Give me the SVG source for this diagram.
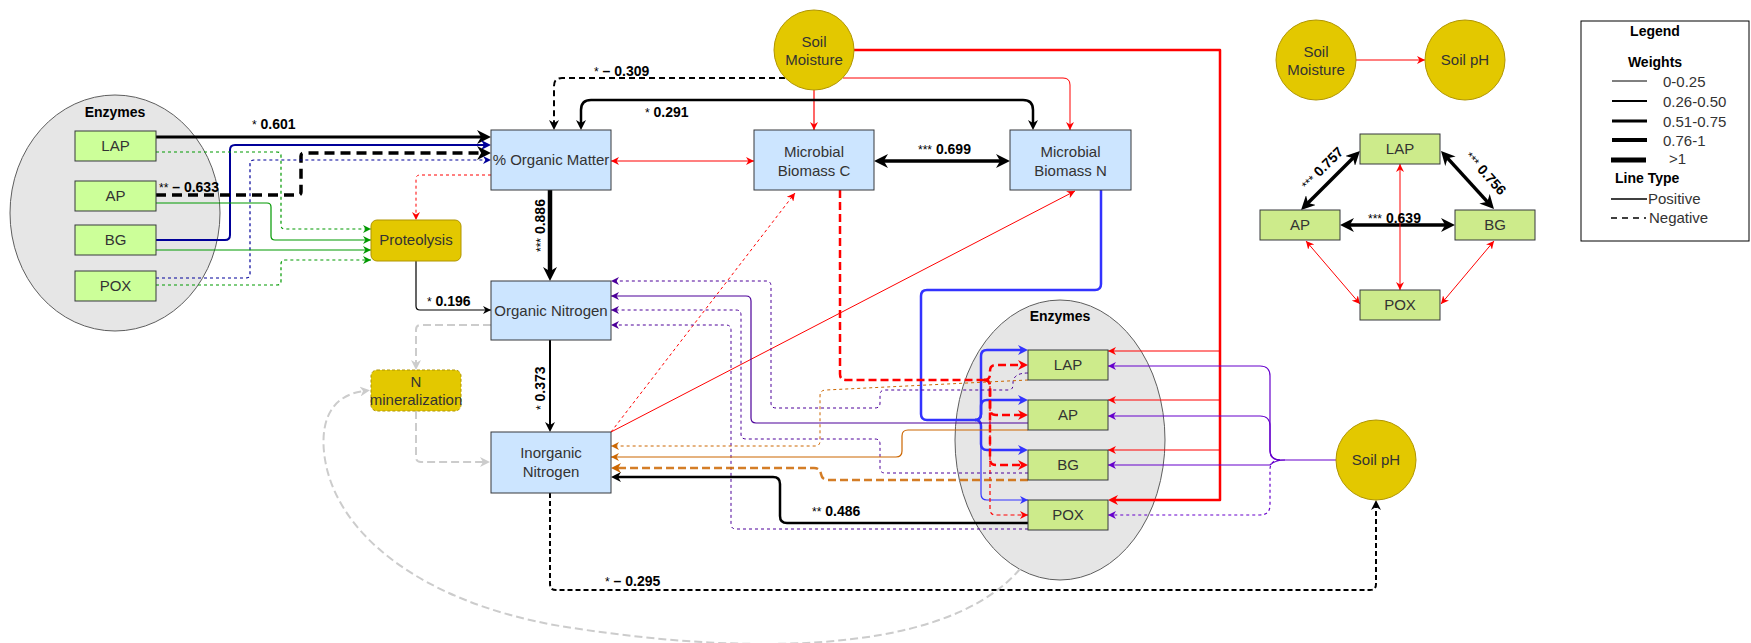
<svg xmlns="http://www.w3.org/2000/svg" width="1751" height="643" viewBox="0 0 1751 643">
  <style>
    .box { fill: #cce5ff; stroke: #36393d; stroke-width: 1; }
    .enz { fill: #cdeb8b; stroke: #36393d; stroke-width: 1; }
    .enzL { fill: #ccff99; stroke: #36393d; stroke-width: 1; }
    .gold { fill: #e3c800; stroke: #b09500; stroke-width: 1; }
    .cluster { fill: #e6e6e6; stroke: #5e5e5e; stroke-width: 1; }
    text { font-family: "Liberation Sans", Arial, Helvetica, sans-serif; }
    .t { font-size: 15px; fill: #333333; text-anchor: middle; }
    .h { font-size: 14px; font-weight: bold; fill: #000; text-anchor: middle; }
    .lbl { font-size: 14px; fill: #000; }
    .lbl .a { font-size: 12px; font-weight: normal; }
    .lbl .n { font-weight: bold; }
    .lg { font-size: 15px; fill: #333333; }
    .e { fill: none; stroke-linejoin: round; }
    .k { stroke: #000000; }
    .r { stroke: #ff0000; }
    .nv { stroke: #000099; }
    .g { stroke: #009900; }
    .pd { stroke: #4c0099; }
    .pu { stroke: #6600cc; }
    .o { stroke: #cc6600; }
    .bl { stroke: #3333ff; }
    .gr { stroke: #cccccc; }
    .d { stroke-dasharray: 3 3; }
  </style>
  <defs>
    <!-- small arrowheads: tip sits on the path end -->
    <marker id="s-k" viewBox="0 0 10 10" markerWidth="8" markerHeight="8" refX="10" refY="5" orient="auto-start-reverse" markerUnits="userSpaceOnUse"><path d="M0,0 L10,5 L0,10 L3,5 z" fill="#000000"/></marker>
    <marker id="s-r" viewBox="0 0 10 10" markerWidth="8" markerHeight="8" refX="10" refY="5" orient="auto-start-reverse" markerUnits="userSpaceOnUse"><path d="M0,0 L10,5 L0,10 L3,5 z" fill="#ff0000"/></marker>
    <marker id="s-nv" viewBox="0 0 10 10" markerWidth="8" markerHeight="8" refX="10" refY="5" orient="auto-start-reverse" markerUnits="userSpaceOnUse"><path d="M0,0 L10,5 L0,10 L3,5 z" fill="#000099"/></marker>
    <marker id="s-g" viewBox="0 0 10 10" markerWidth="8" markerHeight="8" refX="10" refY="5" orient="auto-start-reverse" markerUnits="userSpaceOnUse"><path d="M0,0 L10,5 L0,10 L3,5 z" fill="#009900"/></marker>
    <marker id="s-pd" viewBox="0 0 10 10" markerWidth="8" markerHeight="8" refX="10" refY="5" orient="auto-start-reverse" markerUnits="userSpaceOnUse"><path d="M0,0 L10,5 L0,10 L3,5 z" fill="#4c0099"/></marker>
    <marker id="s-pu" viewBox="0 0 10 10" markerWidth="8" markerHeight="8" refX="10" refY="5" orient="auto-start-reverse" markerUnits="userSpaceOnUse"><path d="M0,0 L10,5 L0,10 L3,5 z" fill="#6600cc"/></marker>
    <marker id="s-o" viewBox="0 0 10 10" markerWidth="8" markerHeight="8" refX="10" refY="5" orient="auto-start-reverse" markerUnits="userSpaceOnUse"><path d="M0,0 L10,5 L0,10 L3,5 z" fill="#cc6600"/></marker>
    <marker id="s-bl" viewBox="0 0 10 10" markerWidth="8" markerHeight="8" refX="10" refY="5" orient="auto-start-reverse" markerUnits="userSpaceOnUse"><path d="M0,0 L10,5 L0,10 L3,5 z" fill="#3333ff"/></marker>
    <!-- medium arrowheads: tip extends 6px past the path end -->
    <marker id="m-k" viewBox="0 0 10 10" markerWidth="10" markerHeight="10" refX="4" refY="5" orient="auto-start-reverse" markerUnits="userSpaceOnUse"><path d="M0,0 L10,5 L0,10 L3,5 z" fill="#000000"/></marker>
    <marker id="m-r" viewBox="0 0 10 10" markerWidth="10" markerHeight="10" refX="4" refY="5" orient="auto-start-reverse" markerUnits="userSpaceOnUse"><path d="M0,0 L10,5 L0,10 L3,5 z" fill="#ff0000"/></marker>
    <marker id="m-nv" viewBox="0 0 10 10" markerWidth="10" markerHeight="10" refX="4" refY="5" orient="auto-start-reverse" markerUnits="userSpaceOnUse"><path d="M0,0 L10,5 L0,10 L3,5 z" fill="#000099"/></marker>
    <marker id="m-o" viewBox="0 0 10 10" markerWidth="10" markerHeight="10" refX="4" refY="5" orient="auto-start-reverse" markerUnits="userSpaceOnUse"><path d="M0,0 L10,5 L0,10 L3,5 z" fill="#cc6600"/></marker>
    <marker id="m-bl" viewBox="0 0 10 10" markerWidth="10" markerHeight="10" refX="4" refY="5" orient="auto-start-reverse" markerUnits="userSpaceOnUse"><path d="M0,0 L10,5 L0,10 L3,5 z" fill="#3333ff"/></marker>
    <marker id="m-gr" viewBox="0 0 10 10" markerWidth="10" markerHeight="10" refX="4" refY="5" orient="auto-start-reverse" markerUnits="userSpaceOnUse"><path d="M0,0 L10,5 L0,10 L3,5 z" fill="#cccccc"/></marker>
    <!-- large arrowheads: tip extends 8px past the path end -->
    <marker id="l-k" viewBox="0 0 10 10" markerWidth="14" markerHeight="14" refX="4.3" refY="5" orient="auto-start-reverse" markerUnits="userSpaceOnUse"><path d="M0,0 L10,5 L0,10 L3,5 z" fill="#000000"/></marker>
  </defs>

  <!-- enzyme clusters (background ellipses) -->
  <g id="cluster-left">
    <ellipse class="cluster" cx="115" cy="213" rx="105" ry="118"/>
    <text class="h" x="115" y="117">Enzymes</text>
  </g>
  <g id="cluster-right">
    <ellipse class="cluster" cx="1060" cy="440" rx="105" ry="140"/>
    <text class="h" x="1060" y="321">Enzymes</text>
  </g>

  <!-- connectors -->
  <g id="connectors">
    <!-- left enzymes to % organic matter -->
    <path class="e k" stroke-width="3" d="M156,137 H483" marker-end="url(#l-k)"/>
    <path class="e nv" stroke-width="2" d="M156,240 H225 Q230,240 230,235 V150 Q230,145 235,145 H485" marker-end="url(#m-nv)"/>
    <path class="e k" stroke-width="3.5" stroke-dasharray="10 6" d="M156,195 H298 Q301,195 301,192 V156 Q301,153 304,153 H483" marker-end="url(#l-k)"/>
    <path class="e nv d" stroke-width="1.2" d="M156,278 H246 Q250,278 250,274 V164 Q250,160 254,160 H491" marker-end="url(#s-nv)"/>
    <!-- left enzymes to proteolysis -->
    <path class="e g d" stroke-width="1.2" d="M156,152 H277 Q281,152 281,156 V225 Q281,229 285,229 H371" marker-end="url(#s-g)"/>
    <path class="e g" stroke-width="1.2" d="M156,203 H267 Q271,203 271,207 V236 Q271,240 275,240 H371" marker-end="url(#s-g)"/>
    <path class="e g" stroke-width="1.2" d="M156,250 H371" marker-end="url(#s-g)"/>
    <path class="e g d" stroke-width="1.2" d="M156,285 H277 Q281,285 281,281 V264 Q281,260 285,260 H371" marker-end="url(#s-g)"/>
    <!-- % organic matter to proteolysis -->
    <path class="e r d" stroke-width="1" d="M491,175 H420 Q416,175 416,179 V220" marker-end="url(#s-r)"/>
    <!-- proteolysis to organic nitrogen -->
    <path class="e k" stroke-width="1.2" d="M416,261 V306 Q416,310 420,310 H491" marker-end="url(#s-k)"/>
    <!-- main vertical chain -->
    <path class="e k" stroke-width="4.5" d="M550,190 V273" marker-end="url(#l-k)"/>
    <path class="e k" stroke-width="2" d="M550,340 V426" marker-end="url(#m-k)"/>
    <!-- N mineralization path -->
    <path class="e gr" stroke-width="2" stroke-dasharray="8 4" d="M491,325 H421 Q416,325 416,330 V364" marker-end="url(#m-gr)"/>
    <path class="e gr" stroke-width="2" stroke-dasharray="8 4" d="M416,411 V457 Q416,462 421,462 H484" marker-end="url(#m-gr)"/>
    <path class="e gr" stroke-width="2" stroke-dasharray="8 4" d="M1020,569 C940,662 720,652 560,626 C420,602 332,532 324,452 C320,410 340,394 364,391" marker-end="url(#m-gr)"/>
    <!-- soil moisture links -->
    <path class="e k" stroke-width="2" stroke-dasharray="6 4" d="M785,78 H562 Q554,78 554,86 V124" marker-end="url(#m-k)"/>
    <path class="e r" stroke-width="1.2" d="M814,90 V130" marker-end="url(#s-r)"/>
    <path class="e r" stroke-width="1" d="M843,78 H1063 Q1070,78 1070,85 V130" marker-end="url(#s-r)"/>
    <path class="e r" stroke-width="2.5" stroke-linejoin="miter" d="M854,50 H1220 V500 H1114" marker-end="url(#m-r)"/>
    <path class="e r" stroke-width="1.2" d="M1220,351 H1108" marker-end="url(#s-r)"/>
    <path class="e r" stroke-width="1.2" d="M1220,400 H1108" marker-end="url(#s-r)"/>
    <path class="e r" stroke-width="1.2" d="M1220,450 H1108" marker-end="url(#s-r)"/>
    <!-- % organic matter and microbial biomass N -->
    <path class="e k" stroke-width="2.5" d="M581,124 V110 Q581,100 591,100 H1023 Q1033,100 1033,110 V124" marker-start="url(#m-k)" marker-end="url(#m-k)"/>
    <!-- horizontal links between top boxes -->
    <path class="e r" stroke-width="1.2" d="M611,161 H754" marker-start="url(#s-r)" marker-end="url(#s-r)"/>
    <path class="e k" stroke-width="3.5" d="M882,161 H1002" marker-start="url(#l-k)" marker-end="url(#l-k)"/>
    <!-- inorganic nitrogen to microbial biomass -->
    <path class="e r d" stroke-width="1" d="M611,432 L795,193" marker-end="url(#s-r)"/>
    <path class="e r" stroke-width="1" d="M611,432 L1075,191" marker-end="url(#s-r)"/>
    <!-- microbial biomass N to right enzymes -->
    <path class="e bl" stroke-width="2.5" d="M1101,190 V284 Q1101,290 1095,290 H927 Q921,290 921,296 V414 Q921,420 927,420 H975"/>
    <path class="e bl" stroke-width="2.5" d="M975,420 Q981,420 981,414 V356 Q981,350 987,350 H1022" marker-end="url(#m-bl)"/>
    <path class="e bl" stroke-width="2.5" d="M975,420 Q981,420 981,414 V406 Q981,400 987,400 H1022" marker-end="url(#m-bl)"/>
    <path class="e bl" stroke-width="2.5" d="M975,420 Q981,420 981,426 V444 Q981,450 987,450 H1022" marker-end="url(#m-bl)"/>
    <path class="e bl" stroke-width="1.2" d="M975,420 Q981,420 981,426 V494 Q981,500 987,500 H1028" marker-end="url(#s-bl)"/>
    <!-- microbial biomass C to right enzymes -->
    <path class="e r" stroke-width="2.5" stroke-dasharray="8 4" d="M840,190 V374 Q840,380 846,380 H984"/>
    <path class="e r" stroke-width="2.5" stroke-dasharray="8 4" d="M984,380 Q990,380 990,374 V371 Q990,365 996,365 H1022" marker-end="url(#m-r)"/>
    <path class="e r" stroke-width="2.5" stroke-dasharray="8 4" d="M984,380 Q990,380 990,386 V409 Q990,415 996,415 H1022" marker-end="url(#m-r)"/>
    <path class="e r" stroke-width="2.5" stroke-dasharray="8 4" d="M984,380 Q990,380 990,386 V459 Q990,465 996,465 H1022" marker-end="url(#m-r)"/>
    <path class="e r" stroke-width="1.2" stroke-dasharray="4 3" d="M990,386 V509 Q990,515 996,515 H1028" marker-end="url(#s-r)"/>
    <!-- soil pH to right enzymes -->
    <path class="e pu" stroke-width="1.2" d="M1336,460 H1280 Q1270,460 1270,450 V376 Q1270,366 1260,366 H1108" marker-end="url(#s-pu)"/>
    <path class="e pu" stroke-width="1.2" d="M1280,460 Q1270,460 1270,450 V426 Q1270,416 1260,416 H1108" marker-end="url(#s-pu)"/>
    <path class="e pu" stroke-width="1.2" d="M1285,460 Q1275,460 1270,465 H1108" marker-end="url(#s-pu)"/>
    <path class="e pu d" stroke-width="1.2" d="M1280,460 Q1270,460 1270,470 V505 Q1270,515 1260,515 H1108" marker-end="url(#s-pu)"/>
    <!-- right enzymes to organic nitrogen -->
    <path class="e pd d" stroke-width="1" d="M1028,373 Q1013,373 1013,383 V385 Q1013,390 1008,390 H885 Q880,390 880,395 V403 Q880,408 875,408 H776 Q771,408 771,403 V286 Q771,281 766,281 H611" marker-end="url(#s-pd)"/>
    <path class="e pd" stroke-width="1.2" d="M1028,423 H756 Q751,423 751,418 V301 Q751,296 746,296 H611" marker-end="url(#s-pd)"/>
    <path class="e pd d" stroke-width="1" d="M1028,473 H885 Q880,473 880,468 V444 Q880,439 875,439 H746 Q741,439 741,434 V315 Q741,310 736,310 H611" marker-end="url(#s-pd)"/>
    <path class="e pd d" stroke-width="1" d="M1028,529 H736 Q731,529 731,524 V330 Q731,325 726,325 H611" marker-end="url(#s-pd)"/>
    <!-- right enzymes to inorganic nitrogen -->
    <path class="e o d" stroke-width="1" d="M1028,380 L826,390 Q820,390 820,396 V441 Q820,446 815,446 H611" marker-end="url(#s-o)"/>
    <path class="e o" stroke-width="1.2" d="M1028,430 H908 Q902,430 902,436 V451 Q902,457 896,457 H611" marker-end="url(#s-o)"/>
    <path class="e o" stroke-width="2.5" stroke-dasharray="8 4" stroke-opacity="0.85" d="M1028,480 H828 Q822,480 821,474 Q820,468 814,468 H617" marker-end="url(#m-o)"/>
    <path class="e k" stroke-width="2.5" d="M1028,523 H787 Q780,523 780,516 V484 Q780,477 773,477 H617" marker-end="url(#m-k)"/>
    <!-- inorganic nitrogen to soil pH -->
    <path class="e k" stroke-width="2" stroke-dasharray="5 3" d="M550,493 V584 Q550,590 556,590 H1370 Q1376,590 1376,584 V506" marker-end="url(#m-k)"/>
    <!-- inset: soil moisture to soil pH -->
    <path class="e r" stroke-width="1.2" d="M1356,60 H1425" marker-end="url(#s-r)"/>
    <!-- inset: enzyme correlations -->
    <path class="e k" stroke-width="3.5" d="M1306.7,204.3 L1354.3,156.7" marker-start="url(#l-k)" marker-end="url(#l-k)"/>
    <path class="e k" stroke-width="3.5" d="M1446.4,156.9 L1488.6,203.1" marker-start="url(#l-k)" marker-end="url(#l-k)"/>
    <path class="e k" stroke-width="3.5" d="M1348,225 H1447" marker-start="url(#l-k)" marker-end="url(#l-k)"/>
    <path class="e r" stroke-width="1" d="M1400,164 V290" marker-start="url(#s-r)" marker-end="url(#s-r)"/>
    <path class="e r" stroke-width="1" d="M1306,241 L1360,304" marker-start="url(#s-r)" marker-end="url(#s-r)"/>
    <path class="e r" stroke-width="1" d="M1494,241 L1441,304" marker-start="url(#s-r)" marker-end="url(#s-r)"/>
  </g>

  <!-- connector labels -->
  <g id="edge-labels">
    <text class="lbl" x="252" y="129"><tspan class="a">*</tspan> <tspan class="n">0.601</tspan></text>
    <text class="lbl" x="159" y="192"><tspan class="a">**</tspan> <tspan class="n">– 0.633</tspan></text>
    <text class="lbl" x="427" y="306"><tspan class="a">*</tspan> <tspan class="n">0.196</tspan></text>
    <text class="lbl" x="594" y="76"><tspan class="a">*</tspan> <tspan class="n">– 0.309</tspan></text>
    <text class="lbl" x="645" y="117"><tspan class="a">*</tspan> <tspan class="n">0.291</tspan></text>
    <text class="lbl" x="918" y="154"><tspan class="a">***</tspan> <tspan class="n">0.699</tspan></text>
    <text class="lbl" x="812" y="516"><tspan class="a">**</tspan> <tspan class="n">0.486</tspan></text>
    <text class="lbl" x="605" y="586"><tspan class="a">*</tspan> <tspan class="n">– 0.295</tspan></text>
    <text class="lbl" x="1368" y="223"><tspan class="a">***</tspan> <tspan class="n">0.639</tspan></text>
    <text class="lbl" transform="translate(545,252) rotate(-90)"><tspan class="a">***</tspan> <tspan class="n">0.886</tspan></text>
    <text class="lbl" transform="translate(545,410) rotate(-90)"><tspan class="a">*</tspan> <tspan class="n">0.373</tspan></text>
    <text class="lbl" text-anchor="middle" transform="translate(1322,168) rotate(-45)" dy="5"><tspan class="a">***</tspan> <tspan class="n">0.757</tspan></text>
    <text class="lbl" text-anchor="middle" transform="translate(1486,173) rotate(48)" dy="5"><tspan class="a">***</tspan> <tspan class="n">0.756</tspan></text>
  </g>

  <!-- left enzyme boxes -->
  <g id="lap-left"><rect class="enzL" x="75" y="131" width="81" height="30"/><text class="t" x="115.5" y="151">LAP</text></g>
  <g id="ap-left"><rect class="enzL" x="75" y="181" width="81" height="30"/><text class="t" x="115.5" y="201">AP</text></g>
  <g id="bg-left"><rect class="enzL" x="75" y="225" width="81" height="30"/><text class="t" x="115.5" y="245">BG</text></g>
  <g id="pox-left"><rect class="enzL" x="75" y="271" width="81" height="30"/><text class="t" x="115.5" y="291">POX</text></g>

  <!-- process nodes -->
  <g id="proteolysis"><rect class="gold" x="371" y="220" width="90" height="41" rx="6"/><text class="t" x="416" y="245">Proteolysis</text></g>
  <g id="n-mineralization"><rect class="gold" x="371" y="370" width="90" height="41" rx="6" stroke-dasharray="3 2"/><text class="t" x="416" y="387">N</text><text class="t" x="416" y="405">mineralization</text></g>

  <!-- pool nodes -->
  <g id="organic-matter"><rect class="box" x="491" y="130" width="120" height="60"/><text class="t" x="551" y="165">% Organic Matter</text></g>
  <g id="microbial-c"><rect class="box" x="754" y="130" width="120" height="60"/><text class="t" x="814" y="157">Microbial</text><text class="t" x="814" y="176">Biomass C</text></g>
  <g id="microbial-n"><rect class="box" x="1010" y="130" width="121" height="60"/><text class="t" x="1070.5" y="157">Microbial</text><text class="t" x="1070.5" y="176">Biomass N</text></g>
  <g id="organic-nitrogen"><rect class="box" x="491" y="281" width="120" height="59"/><text class="t" x="551" y="316">Organic Nitrogen</text></g>
  <g id="inorganic-nitrogen"><rect class="box" x="491" y="432" width="120" height="61"/><text class="t" x="551" y="458">Inorganic</text><text class="t" x="551" y="477">Nitrogen</text></g>

  <!-- soil properties -->
  <g id="soil-moisture"><circle class="gold" cx="814" cy="50" r="40"/><text class="t" x="814" y="47">Soil</text><text class="t" x="814" y="65">Moisture</text></g>
  <g id="soil-ph"><circle class="gold" cx="1376" cy="460" r="40"/><text class="t" x="1376" y="465">Soil pH</text></g>

  <!-- right enzyme boxes -->
  <g id="lap-right"><rect class="enz" x="1028" y="350" width="80" height="30"/><text class="t" x="1068" y="370">LAP</text></g>
  <g id="ap-right"><rect class="enz" x="1028" y="400" width="80" height="30"/><text class="t" x="1068" y="420">AP</text></g>
  <g id="bg-right"><rect class="enz" x="1028" y="450" width="80" height="30"/><text class="t" x="1068" y="470">BG</text></g>
  <g id="pox-right"><rect class="enz" x="1028" y="500" width="80" height="30"/><text class="t" x="1068" y="520">POX</text></g>

  <!-- inset: soil moisture and pH -->
  <g id="inset-moisture"><circle class="gold" cx="1316" cy="60" r="40"/><text class="t" x="1316" y="57">Soil</text><text class="t" x="1316" y="75">Moisture</text></g>
  <g id="inset-ph"><circle class="gold" cx="1465" cy="60" r="40"/><text class="t" x="1465" y="65">Soil pH</text></g>

  <!-- inset: enzyme correlations -->
  <g id="inset-lap"><rect class="enz" x="1360" y="134" width="80" height="30"/><text class="t" x="1400" y="154">LAP</text></g>
  <g id="inset-ap"><rect class="enz" x="1260" y="210" width="80" height="30"/><text class="t" x="1300" y="230">AP</text></g>
  <g id="inset-bg"><rect class="enz" x="1455" y="210" width="80" height="30"/><text class="t" x="1495" y="230">BG</text></g>
  <g id="inset-pox"><rect class="enz" x="1360" y="290" width="80" height="30"/><text class="t" x="1400" y="310">POX</text></g>

  <!-- legend -->
  <g id="legend">
    <rect x="1581" y="21" width="168" height="220" fill="#ffffff" stroke="#000000" stroke-width="1"/>
    <text class="h" x="1655" y="36">Legend</text>
    <text class="h" x="1655" y="67">Weights</text>
    <line x1="1612" y1="81" x2="1647" y2="81" stroke="#000" stroke-width="1"/>
    <line x1="1612" y1="101" x2="1647" y2="101" stroke="#000" stroke-width="2"/>
    <line x1="1612" y1="121" x2="1647" y2="121" stroke="#000" stroke-width="3"/>
    <line x1="1612" y1="140" x2="1647" y2="140" stroke="#000" stroke-width="4"/>
    <line x1="1611" y1="160" x2="1646" y2="160" stroke="#000" stroke-width="5"/>
    <text class="lg" x="1663" y="87">0-0.25</text>
    <text class="lg" x="1663" y="107">0.26-0.50</text>
    <text class="lg" x="1663" y="127">0.51-0.75</text>
    <text class="lg" x="1663" y="146">0.76-1</text>
    <text class="lg" x="1669" y="164">&gt;1</text>
    <text class="h" x="1615" y="183" text-anchor="start" style="text-anchor:start">Line Type</text>
    <line x1="1611" y1="199" x2="1647" y2="199" stroke="#000" stroke-width="1.5"/>
    <text class="lg" x="1648" y="204">Positive</text>
    <line x1="1611" y1="218" x2="1646" y2="218" stroke="#000" stroke-width="1.5" stroke-dasharray="6 5"/>
    <text class="lg" x="1649" y="223">Negative</text>
  </g>
</svg>
